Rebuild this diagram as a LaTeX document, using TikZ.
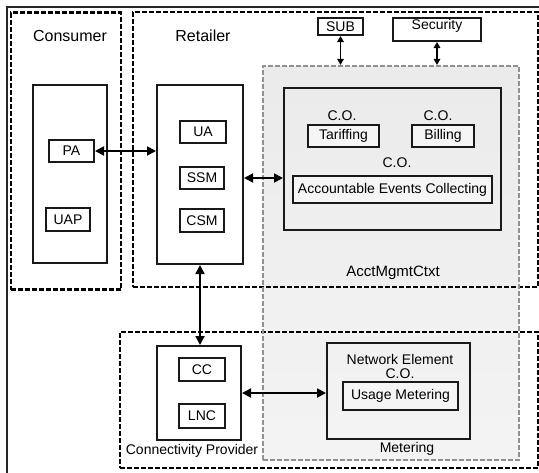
\documentclass[tikz,border=0pt]{standalone}
\usepackage{fontspec}
\setmainfont{Liberation Sans}
\usetikzlibrary{arrows.meta}
\begin{document}
\begin{tikzpicture}[x=1pt,y=-1pt,
  box/.style={draw=black!90,line width=2pt,rectangle,inner sep=0pt,fill=white},
  ibox/.style={box,fill=none},
  blk/.style={draw=black,line width=2.2pt,dash pattern=on 5pt off 2pt,rectangle,inner sep=0pt},
  gry/.style={draw=gray!85!black!75,line width=2.2pt,dash pattern=on 5pt off 2pt,rectangle,inner sep=0pt},
  txt/.style={inner sep=0pt,font=\fontsize{14}{16}\selectfont},
  big/.style={inner sep=0pt,font=\fontsize{16}{18}\selectfont},
  arr/.style={line width=1.8pt,{Triangle[length=9pt,width=9pt]}-{Triangle[length=9pt,width=9pt]}},
  sarr/.style={line width=1.6pt,{Triangle[length=6pt,width=6.5pt]}-{Triangle[length=6pt,width=6.5pt]}}
]
\useasboundingbox (0,0) rectangle (539,472);
% gray context fill
\node[rectangle,inner sep=0pt,minimum width=256pt,minimum height=394pt,
  top color=gray!16,bottom color=gray!9] (grayfill) at (391,263) {};
% outer frame
\draw[line width=2.2pt,black!85] (7,7) rectangle (560,490);
% dashed regions
\node[blk,minimum width=110pt,minimum height=277pt] (consumer) at (66,151) {};
\node[blk,minimum width=405pt,minimum height=275pt] (retailer) at (335.5,149.5) {};
\node[blk,minimum width=418pt,minimum height=136pt] (cp) at (329,400) {};
\node[gry,minimum width=256pt,minimum height=394pt] (gray) at (391,263) {};
% region labels
\node[big] (lconsumer) at (70,36) {Consumer};
\node[big] (lretailer) at (203,36) {Retailer};
\node[inner sep=0pt,font=\fontsize{15}{17}\selectfont] (lamc) at (393,273) {AcctMgmtCtxt};
\node[txt] (lcp) at (192,451) {Connectivity Provider};
\node[txt] (lmet) at (407,449) {Metering};
% consumer
\node[box,minimum width=74pt,minimum height=178pt] (cbox) at (70,174) {};
\node[box,minimum width=45pt,minimum height=22pt,font=\fontsize{14}{16}\selectfont] (pa) at (71.5,151) {PA};
\node[box,minimum width=44pt,minimum height=23pt,font=\fontsize{14}{16}\selectfont] (uap) at (68,219.5) {UAP};
% retailer
\node[box,minimum width=86pt,minimum height=179pt] (rbox) at (200,174.5) {};
\node[box,minimum width=46pt,minimum height=22pt,font=\fontsize{14}{16}\selectfont] (ua) at (203,132) {UA};
\node[box,minimum width=44pt,minimum height=22pt,font=\fontsize{14}{16}\selectfont] (ssm) at (202,178) {SSM};
\node[box,minimum width=44pt,minimum height=23pt,font=\fontsize{14}{16}\selectfont] (csm) at (202,220.5) {CSM};
% SUB / Security
\node[box,minimum width=45pt,minimum height=17pt,font=\fontsize{14}{16}\selectfont] (sub) at (340.5,26.5) {SUB};
\node[box,minimum width=88pt,minimum height=23pt] (sec) at (437,29.5) {};
\node[txt] (lsec) at (437,26) {Security};
% AcctMgmt inner
\node[ibox,minimum width=217pt,minimum height=142pt] (amc) at (392.5,159) {};
\node[txt] (co1) at (342,116) {C.O.};
\node[box,fill=gray!8,minimum width=71pt,minimum height=22pt,font=\fontsize{14}{16}\selectfont] (tar) at (343.5,136) {Tariffing};
\node[txt] (co2) at (438,116) {C.O.};
\node[box,fill=gray!8,minimum width=62pt,minimum height=22pt,font=\fontsize{14}{16}\selectfont] (bil) at (443,136) {Billing};
\node[txt] (co3) at (397,163) {C.O.};
\node[box,fill=gray!8,minimum width=199pt,minimum height=27pt,font=\fontsize{14}{16}\selectfont] (aec) at (392.5,189.5) {Accountable Events Collecting};
% connectivity provider
\node[box,minimum width=84pt,minimum height=94pt] (ccbox) at (199,393) {};
\node[box,minimum width=46pt,minimum height=23pt,font=\fontsize{14}{16}\selectfont] (cc) at (202,369.5) {CC};
\node[box,minimum width=46pt,minimum height=24pt,font=\fontsize{14}{16}\selectfont] (lnc) at (202,416) {LNC};
% network element
\node[ibox,minimum width=143pt,minimum height=96pt] (ne) at (398.5,391) {};
\node[txt] (lne) at (400,359) {Network Element};
\node[txt] (co4) at (400,374) {C.O.};
\node[box,fill=gray!8,minimum width=115pt,minimum height=28pt,font=\fontsize{14}{16}\selectfont] (usage) at (400.5,396) {Usage Metering};
% connectors
\draw[arr] (pa.east) -- (pa.east -| rbox.west);
\draw[arr] (rbox.east |- ssm) -- (amc.west |- ssm);
\draw[arr] (rbox.south) -- (rbox.south |- ccbox.north);
\draw[arr] (ccbox.east) -- (ccbox.east -| ne.west);
\draw[sarr] (sub.south) -- (sub.south |- gray.north);
\draw[sarr] (sec.south) -- (sec.south |- gray.north);
\end{tikzpicture}
\end{document}
